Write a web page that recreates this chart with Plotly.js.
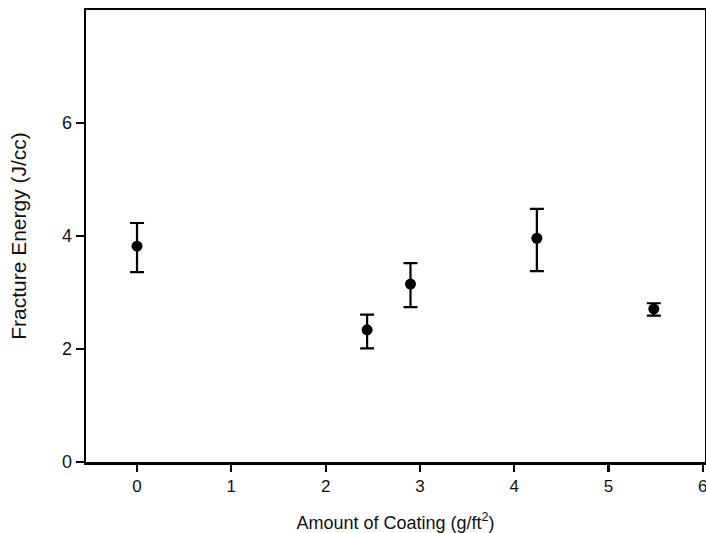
<!DOCTYPE html>
<html>
<head>
<meta charset="utf-8">
<script src="https://cdn.plot.ly/plotly-3.0.1.min.js"></script>
<style>html,body{margin:0;padding:0;background:#fff;}#chart{width:706px;height:533px;}</style>
</head>
<body>
<div id="chart"></div>
<script>
const coating = [0, 2.44, 2.9, 4.24, 5.48];
const energy = [3.82, 2.34, 3.15, 3.96, 2.71];
const errPlus = [0.41, 0.27, 0.37, 0.52, 0.10];
const errMinus = [0.46, 0.33, 0.41, 0.58, 0.12];
const xTicks = [0, 1, 2, 3, 4, 5, 6];
const yTicks = [0, 2, 4, 6];

const trace = {
  x: coating, y: energy, type: 'scatter', mode: 'markers',
  marker: {color: '#000', size: 11},
  error_y: {type: 'data', symmetric: false, array: errPlus, arrayminus: errMinus,
            color: '#000', thickness: 2.2, width: 7},
  showlegend: false, hoverinfo: 'skip', cliponaxis: false
};
const layout = {
  width: 706, height: 533,
  margin: {l: 86, r: 1, t: 10, b: 71},
  paper_bgcolor: '#fff', plot_bgcolor: '#fff',
  font: {family: 'Liberation Sans, Arial, sans-serif', color: '#111', size: 17},
  xaxis: {
    range: [-0.541, 6.023], tickvals: xTicks, ticktext: xTicks.map(String),
    showgrid: false, zeroline: false, showline: true, mirror: true, ticklabeloverflow: 'allow',
    linecolor: '#000', linewidth: 2.5, ticks: 'outside', ticklen: 7, tickwidth: 2.2, tickcolor: '#000',
    tickfont: {size: 17},
    title: {text: 'Amount of Coating (g/ft<sup>2</sup>)', font: {size: 18}, standoff: 22}
  },
  yaxis: {
    range: [0, 8], tickvals: yTicks, ticktext: yTicks.map(String),
    showgrid: false, zeroline: false, showline: true, mirror: true, ticklabeloverflow: 'allow',
    linecolor: '#000', linewidth: 2.5, ticks: 'outside', ticklen: 8, tickwidth: 2.2, tickcolor: '#000',
    tickfont: {size: 18},
    title: {text: 'Fracture Energy (J/cc)', font: {size: 21}, standoff: 30}
  }
};
Plotly.newPlot('chart', [trace], layout, {displayModeBar: false, staticPlot: true});
</script>
</body>
</html>
